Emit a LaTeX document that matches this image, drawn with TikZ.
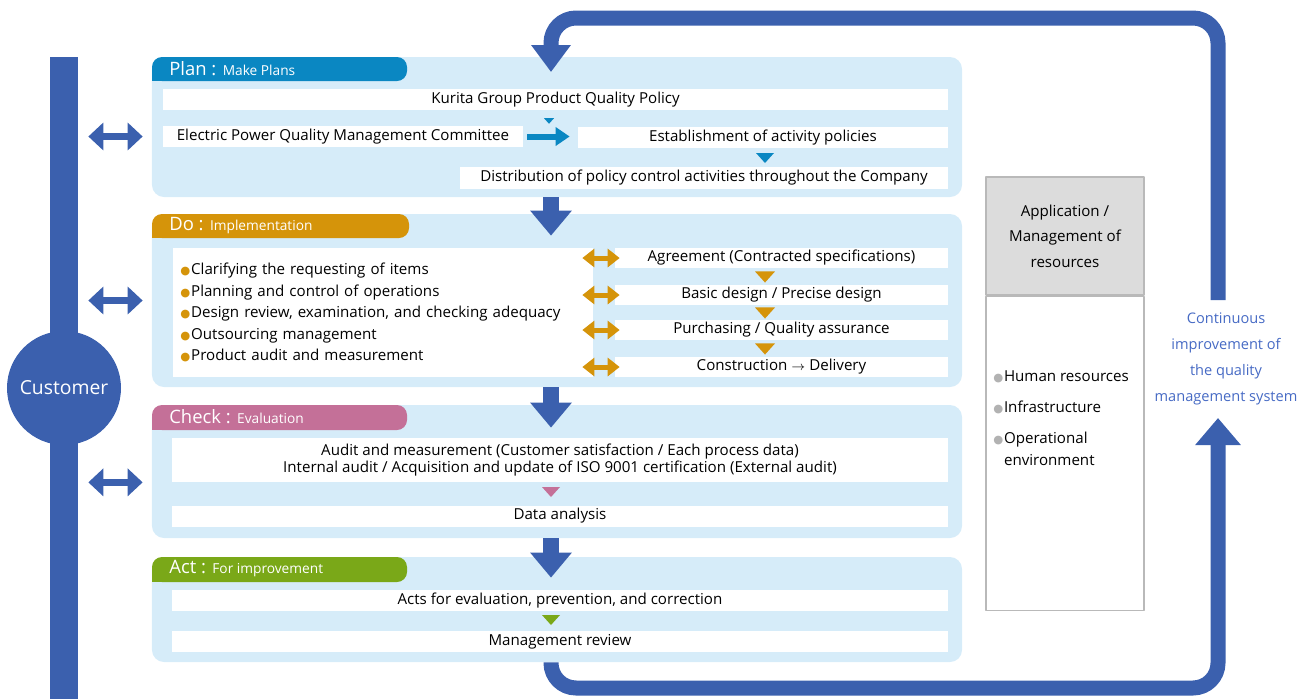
\documentclass[tikz,border=0pt]{standalone}
\usepackage{fontspec}
\setmainfont{Open Sans}
\newfontfamily\symfont{DejaVu Sans}
\usetikzlibrary{arrows.meta,calc,positioning}
\definecolor{planblue}{RGB}{10,135,194}
\definecolor{doamber}{RGB}{213,148,10}
\definecolor{checkrose}{RGB}{196,112,152}
\definecolor{actgreen}{RGB}{122,168,24}
\definecolor{cyclenavy}{RGB}{59,96,174}
\definecolor{panelsky}{RGB}{214,236,249}
\definecolor{resgray}{RGB}{220,220,220}
\definecolor{loopblue}{RGB}{70,106,196}
\newcommand{\bodysize}{\fontsize{8.6}{10}\selectfont}
\newcommand{\listdot}[1]{{\color{#1}\fontsize{6.5}{6.5}\symfont ●}\hspace{.4pt}}
\newcommand{\dropmark}[4]{\fill[#1] ({#2-#4/2},{#3-#4/3.6}) -- ({#2+#4/2},{#3-#4/3.6}) -- (#2,{#3+#4/3.6}) -- cycle;}
\tikzset{
 panel/.style={fill=panelsky,rounded corners=2.4mm,minimum width=162mm,inner sep=0pt},
 rowbox/.style={fill=white,inner sep=0pt,minimum height=4.2mm,font=\bodysize},
 tabtext/.style={anchor=west,inner sep=0pt,text=white},
 twoway/.style={cyclenavy,line width=1.4mm,{Triangle[width=5.4mm,length=3mm]}-{Triangle[width=5.4mm,length=3mm]}},
 amberway/.style={doamber,line width=1mm,{Triangle[width=3.6mm,length=2.4mm]}-{Triangle[width=3.6mm,length=2.4mm]}},
 bigdown/.style={cyclenavy,line width=3.2mm,-{Triangle[width=8mm,length=5mm]}},
 loopline/.style={cyclenavy,line width=3mm,rounded corners=5mm},
}
\begin{document}
\begin{tikzpicture}[x=.2mm,y=-.2mm,line join=round]
 \useasboundingbox (0,0) rectangle (1312,699);
 % customer
 \node[fill=cyclenavy,minimum width=5.6mm,minimum height=128.4mm,
  inner sep=0pt] (spine) at (64,378) {};
 \node[circle,fill=cyclenavy,minimum size=22.8mm,text=white,
  font=\fontsize{11}{12}\selectfont] (customer) at (64,388) {Customer};
 % panels
 \node[panel,minimum height=28mm] (plan) at (557,127) {};
 \node[panel,minimum height=34.6mm] (do) at (557,300.5) {};
 \node[panel,minimum height=26.6mm] (check) at (557,471.5) {};
 \node[panel,minimum height=21mm] (act) at (557,609.5) {};
 % tabs
 \fill[planblue,rounded corners=2mm] (152,81) -- (152,57) -- (407,57) -- (407,81) -- cycle;
 \fill[planblue] (152,70) rectangle (170,81);
 \fill[doamber,rounded corners=2mm] (152,238) -- (152,214) -- (409,214) -- (409,238) -- cycle;
 \fill[doamber] (152,227) rectangle (170,238);
 \fill[checkrose,rounded corners=2mm] (152,430) -- (152,405) -- (407,405) -- (407,430) -- cycle;
 \fill[checkrose] (152,419) rectangle (170,430);
 \fill[actgreen,rounded corners=2mm] (152,582) -- (152,557) -- (407,557) -- (407,582) -- cycle;
 \fill[actgreen] (152,571) rectangle (170,582);
 \node[tabtext] (plantab) at (169,69)
  {{\fontsize{10.5}{12}\selectfont Plan : }{\fontsize{7.8}{9}\selectfont Make Plans}};
 \node[tabtext] (dotab) at (169,226)
  {{\fontsize{10.5}{12}\selectfont Do : }{\fontsize{7.8}{9}\selectfont Implementation}};
 \node[tabtext] (checktab) at (169,417)
  {{\fontsize{10.5}{12}\selectfont Check : }{\fontsize{7.8}{9}\selectfont Evaluation}};
 \node[tabtext] (acttab) at (169,569)
  {{\fontsize{10.5}{12}\selectfont Act : }{\fontsize{7.8}{9}\selectfont For improvement}};
 % plan
 \node[rowbox,minimum width=157mm] (policy) at (555.5,99.5)
  {Kurita Group Product Quality Policy};
 \node[rowbox,minimum width=72mm] (committee) at (343,136.5)
  {Electric Power Quality Management Committee};
 \node[rowbox,minimum width=74mm] (establish) at (763,137.5)
  {Establishment of activity policies};
 \node[rowbox,minimum width=97.6mm,minimum height=4.4mm] (spread) at (704,178)
  {Distribution of policy control activities throughout the Company};
 \draw[planblue,line width=1.2mm,-{Triangle[width=3.6mm,length=2.8mm]}]
  ([xshift=.8mm]committee.east) -- ([xshift=-1.6mm]committee.east -| establish.west);
 \dropmark{planblue}{549}{121}{10}
 \dropmark{planblue}{765}{158}{18}
 % do
 \node[rowbox,minimum height=25.8mm,text width=81mm,inner xsep=1.5mm,align=left,
  font=\fontsize{8.6}{12.2}\selectfont] (tasks) at (383,312.5)
  {\listdot{doamber}Clarifying the requesting of items\\
   \listdot{doamber}Planning and control of operations\\
   \listdot{doamber}Design review, examination, and checking adequacy\\
   \listdot{doamber}Outsourcing management\\
   \listdot{doamber}Product audit and measurement};
 \node[rowbox,minimum width=66.6mm,minimum height=4mm] (agree) at (781.5,258)
  {Agreement (Contracted specifications)};
 \node[rowbox,minimum width=66.6mm,minimum height=4mm] (basic) at (781.5,295)
  {Basic design / Precise design};
 \node[rowbox,minimum width=66.6mm,minimum height=4mm] (purchase) at (781.5,330)
  {Purchasing / Quality assurance};
 \node[rowbox,minimum width=66.6mm,minimum height=4mm] (deliver) at (781.5,367)
  {Construction {\scriptsize$\rightarrow$} Delivery};
 \draw[amberway] ([xshift=-2.2mm]tasks.east |- agree) -- ([xshift=1mm]agree.west);
 \draw[amberway] ([xshift=-2.2mm]tasks.east |- basic) -- ([xshift=1mm]basic.west);
 \draw[amberway] ([xshift=-2.2mm]tasks.east |- purchase) -- ([xshift=1mm]purchase.west);
 \draw[amberway] ([xshift=-2.2mm]tasks.east |- deliver) -- ([xshift=1mm]deliver.west);
 \dropmark{doamber}{765}{277}{20}
 \dropmark{doamber}{765}{313}{20}
 \dropmark{doamber}{765}{349}{20}
 % check
 \node[rowbox,minimum width=155.2mm,minimum height=8.8mm,align=center,
  font=\fontsize{8.6}{10.2}\selectfont] (audit) at (560,460)
  {Audit and measurement (Customer satisfaction / Each process data)\\
   Internal audit / Acquisition and update of ISO 9001 certification (External audit)};
 \node[rowbox,minimum width=155.2mm] (analysis) at (560,516) {Data analysis};
 \dropmark{checkrose}{551}{492}{18}
 % act
 \node[rowbox,minimum width=155.2mm] (remedy) at (560,600.5)
  {Acts for evaluation, prevention, and correction};
 \node[rowbox,minimum width=155.2mm] (review) at (560,641.5) {Management review};
 \dropmark{actgreen}{551}{620}{18}
 % cycle arrows
 \draw[bigdown] ([xshift=-1.2mm]plan.south) -- ([xshift=-1.2mm,yshift=-4.4mm]do.north);
 \draw[bigdown] ([xshift=-1.2mm]do.south) -- ([xshift=-1.2mm,yshift=-4.6mm]check.north);
 \draw[bigdown] ([xshift=-1.2mm]check.south) -- ([xshift=-1.2mm,yshift=-4.2mm]act.north);
 \draw[twoway] ([xshift=2mm]spine.east |- committee) -- ([xshift=-1.8mm]plan.west |- committee);
 \draw[twoway] ([xshift=2mm]spine.east |- do) -- ([xshift=-1.8mm]do.west);
 \draw[twoway] ([xshift=2mm]spine.east |- audit.south) -- ([xshift=-1.8mm]check.west |- audit.south);
 \coordinate (risetop) at (1218,300);
 \coordinate (risebase) at (1218,418);
 \coordinate (loopin) at (551,72);
 \draw[loopline,-{Triangle[width=7.6mm,length=5.4mm]}]
  (risetop) -- (1218,18) -- (551,18) -- (loopin);
 \draw[loopline,-{Triangle[width=8.8mm,length=5.4mm]}]
  ([xshift=-1.2mm]act.south) |- (1218,688) -- (risebase);
 \node[text=loopblue,align=center,font=\fontsize{8.3}{14.8}\selectfont] (kaizen)
  at (1226,359) {Continuous\\improvement of\\the quality\\management system};
 % resources
 \node[draw=gray!55,fill=resgray,line width=.3mm,minimum width=31.6mm,
  minimum height=23.6mm,align=center,font=\fontsize{8.6}{14.5}\selectfont]
  (reshead) at (1065,236) {Application /\\Management of\\resources};
 \node[draw=gray!55,fill=white,line width=.3mm,minimum width=31.6mm,
  minimum height=62.8mm,anchor=north] (resbody) at (reshead.south) {};
 \node[anchor=west,align=left,inner sep=0pt,font=\fontsize{8.6}{12.5}\selectfont]
  (reslist) at (993,418)
  {\listdot{gray!60}Human resources\\[1.8mm]
   \listdot{gray!60}Infrastructure\\[1.8mm]
   \listdot{gray!60}Operational\\
   \hphantom{\listdot{gray!60}}environment};
\end{tikzpicture}
\end{document}
